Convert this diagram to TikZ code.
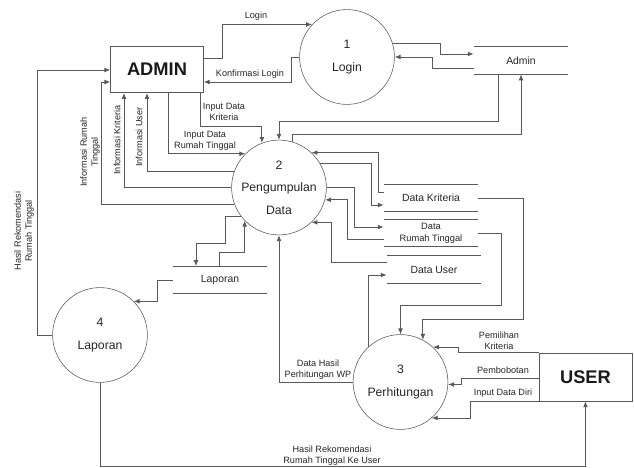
\documentclass[tikz,border=0pt]{standalone}
\usepackage{fontspec}
\setmainfont{Liberation Sans}
\usetikzlibrary{arrows.meta,calc}

\begin{document}
\begin{tikzpicture}[x=0.025cm, y=-0.025cm,
  proses/.style={draw=black!65, circle, minimum size=2.37cm, inner sep=0pt, align=center, text=black!85, font=\fontsize{8.7}{16}\selectfont},
  entitas/.style={draw=black!65, rectangle, minimum width=2.32cm, minimum height=1.16cm, text=black!90, font=\fontsize{13}{15}\selectfont\bfseries},
  simpan/.style={minimum width=2.35cm, minimum height=0.68cm, inner sep=0pt, align=center, text=black!85, font=\fontsize{7.4}{8.6}\selectfont},
  alur/.style={draw=black!65, line width=0.6pt, -{Latex[length=4.2pt,width=3.4pt]}},
  ket/.style={inner sep=0pt, align=center, text=black!85, font=\fontsize{6.5}{7.8}\selectfont}]
\useasboundingbox (0,0) rectangle (634,468);

% entitas
\node[entitas] (admin) at (157,69.5) {ADMIN};
\node[entitas, minimum height=1.2cm] (user) at (585.5,377) {USER};

% proses
\node[proses] (p1) at (347,57) {1\\Login};
\node[proses] (p2) at (279,187.5) {2\\Pengumpulan\\Data};
\node[proses] (p3) at (400.5,382) {3\\Perhitungan};
\node[proses] (p4) at (100,335) {4\\Laporan};

% data store
\node[simpan] (sadmin) at (521,60.5) {Admin};
\node[simpan] (skrit) at (431,198) {Data Kriteria};
\node[simpan, font=\fontsize{6.6}{8.4}\selectfont] (srumah) at (431,233) {Data\\Rumah Tinggal};
\node[simpan] (suser) at (434,269.5) {Data User};
\node[simpan] (slap) at (220,280) {Laporan};
\foreach \s in {sadmin,skrit,srumah,suser,slap}
  \draw[draw=black!65, line width=0.6pt] (\s.north west) -- (\s.north east) (\s.south west) -- (\s.south east);

% login
\draw[alur] (admin.east |- 0,58) -- ++(19,0) |- (p1.137);
\draw[alur] (p1.west) -- ++(-8,0) |- (admin.east |- 0,82);
\draw[alur] (p1.16) -- ++(48,0) |- (sadmin.west |- 0,54);
\draw[alur] (sadmin.west |- 0,68) -- ++(-41,0) |- (p1.east);
\node[ket] (kLogin) at (256,16) {Login};
\node[ket] (kKonfirmasi) at (250,74) {Konfirmasi Login};

% admin <-> pengumpulan data
\draw[alur] (498,0 |- sadmin.south) -- ++(0,47) -| (p2.north);
\draw[alur] (p2.74) -- ++(0,-7) -| (sadmin.south);
\draw[alur] (200,0 |- admin.south) -- ++(0,33) -| (p2.111);
\draw[alur] (168,0 |- admin.south) |- (p2.135);
\draw[alur] (p2.160) -| (147,0 |- admin.south);
\draw[alur] (p2.west) -| (124,0 |- admin.south);
\draw[alur] (p2.201) -| (101,82) -- (admin.west |- 0,82);
\node[ket] (kInKrit) at (224,112) {Input Data\\Kriteria};
\node[ket] (kInRumah) at (205,141) {Input Data\\Rumah Tinggal};
\node[ket, rotate=90] (kInfoUser) at (139,137) {Informasi User};
\node[ket, rotate=90] (kInfoKrit) at (117,140) {Informasi Kriteria};
\node[ket, rotate=90] (kInfoRumah) at (90,152) {Informasi Rumah\\Tinggal};

% pengumpulan data <-> data store
\draw[alur] (skrit.west |- 0,192) -- ++(-5,0) |- (p2.47);
\draw[alur] (p2.31) -| (371,205) -- (skrit.west |- 0,205);
\draw[alur] (p2.east) -| (354,227) -- (srumah.west |- 0,227);
\draw[alur] (srumah.west |- 0,239) -- ++(-36,0) |- (p2.-15);
\draw[alur] (suser.west |- 0,262) -- ++(-55,0) |- (p2.-47);

% laporan
\draw[alur] (p2.217) -| (225,243) -| (196,0 |- slap.north);
\draw[alur] (219,0 |- slap.north) -- (219,252) -| (p2.224);
\draw[alur] (slap.west) -- ++(-15,0) |- (p4.45);
\draw[alur] (p4.west) -| (37,70) -- (admin.west |- 0,70);
\draw[alur] (p4.south) -- ++(0,84) -| (user.south);
\node[ket, rotate=90] (kHasilAdmin) at (24,231) {Hasil Rekomendasi\\Rumah Tinggal};
\node[ket] (kHasilUser) at (332,456) {Hasil Rekomendasi\\Rumah Tinggal Ke User};

% perhitungan
\draw[alur] (skrit.east) -| (523,319) -| (p3.62);
\draw[alur] (srumah.east) -| (501,305) -| (p3.north);
\draw[alur] (p3.133) |- (suser.west |- 0,275);
\draw[alur] (p3.west) -| (p2.south);
\draw[alur] (user.north west) -- ++(-80,0) |- (p3.47);
\draw[alur] (user.west |- 0,378) -- ++(-77,0) |- (p3.-3);
\draw[alur] (user.south west) -- ++(-68,0) |- (p3.-49);
\node[ket] (kHasilWP) at (318,370) {Data Hasil\\Perhitungan WP};
\node[ket] (kPilih) at (499,341) {Pemilihan\\Kriteria};
\node[ket] (kBobot) at (503,370) {Pembobotan};
\node[ket] (kDiri) at (503,393) {Input Data Diri};
\end{tikzpicture}
\end{document}
